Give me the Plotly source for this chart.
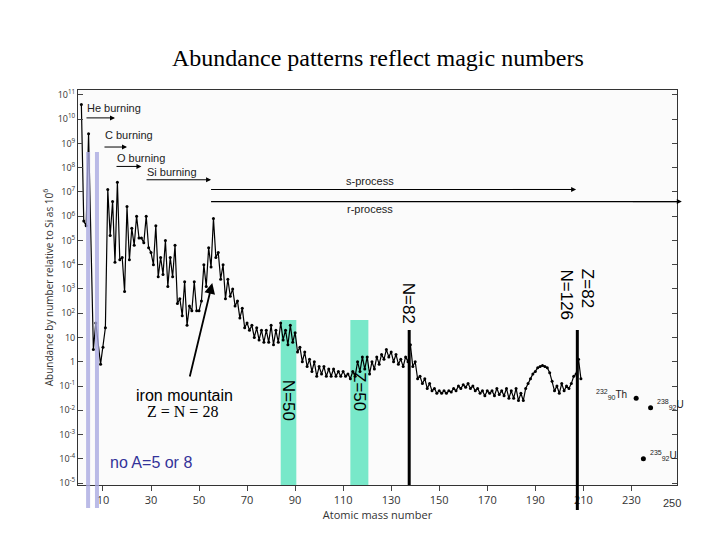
import plotly.graph_objects as go

A_light = [1, 2, 3, 4, 6, 7, 9, 10, 11, 12, 13, 14, 15, 16, 17, 18, 19, 20, 21, 22, 23, 24, 25, 26, 27, 28, 29, 30,
           31, 32, 33, 34, 35, 36, 37, 38, 39, 40, 41, 42, 43, 44, 45, 46, 47, 48, 49, 50, 51, 52, 53, 54, 55, 56,
           57, 58, 59]
log_light = [10.6, 5.8, 5.6, 9.4, 0.5, 1.6, -0.1, 0.6, 1.4, 7.1, 5.2, 6.6, 4.1, 7.4, 4.2, 4.3, 2.9, 6.4, 4.2, 5.5,
             4.8, 6.0, 5.1, 5.1, 4.9, 6.0, 4.7, 4.5, 4.0, 5.6, 3.5, 4.3, 3.6, 5.0, 3.1, 4.3, 3.5, 4.8, 2.4, 2.6,
             1.9, 3.3, 1.5, 2.3, 2.1, 3.3, 2.1, 2.1, 2.5, 4.0, 3.1, 4.7, 3.9, 5.9, 4.3, 4.5, 3.4]
A_heavy = list(range(60, 210))
log_heavy = [4.0, 2.6, 3.4, 2.7, 3.0, 2.3, 2.5, 1.8, 2.2, 1.4, 1.6, 1.3, 1.5, 1.0, 1.4, 0.9, 1.3, 0.8, 1.3, 0.8,
             1.5, 0.7, 1.3, 0.8, 1.6, 0.9, 1.3, 0.7, 1.5, 0.8, 1.2, 0.4, 0.6, 0.0, 0.4, -0.2, 0.1, -0.4, 0.0, -0.6,
             -0.2, -0.5, -0.2, -0.6, -0.3, -0.6, -0.3, -0.6, -0.4, -0.6, -0.4, -0.6, -0.5, -0.7, -0.4, -0.6, 0.0, -0.4, 0.2, -0.3,
             0.2, -0.5, 0.0, -0.3, 0.2, -0.1, 0.3, 0.1, 0.5, 0.2, 0.4, 0.0, 0.3, -0.1, 0.1, -0.2, 0.2, 0.0, 0.7, -0.2,
             0.0, -0.7, -0.6, -0.9, -0.7, -1.1, -0.9, -1.2, -1.1, -1.3, -1.2, -1.3, -1.2, -1.3, -1.2, -1.25, -1.1, -1.2, -1.0, -1.1,
             -0.95, -1.05, -0.9, -1.1, -1.0, -1.2, -1.1, -1.3, -1.2, -1.4, -1.2, -1.3, -1.2, -1.4, -1.1, -1.35, -1.2, -1.4, -1.1, -1.5,
             -1.2, -1.5, -1.1, -1.6, -1.3, -1.6, -1.1, -0.9, -0.7, -0.5, -0.4, -0.25, -0.2, -0.15, -0.2, -0.25, -0.45, -0.8, -1.2, -1.0,
             -1.3, -0.9, -1.2, -1.0, -1.1, -0.9, -0.6, -0.5, 0.1, -0.7]
A_act = [232, 238, 235]
log_act = [-1.5, -1.9, -4.0]
act_labels = ["<sup>232</sup><sub>90</sub>Th", "<sup>238</sup><sub>92</sub>U", "<sup>235</sup><sub>92</sub>U"]

y_ticks = list(range(-5, 12))
y_text = ["10<sup>%d</sup>" % k if k not in (0, 1) else ("1" if k == 0 else "10") for k in y_ticks]
x_ticks = list(range(10, 251, 20))

A_all = A_light + A_heavy
y_all = [10 ** v for v in log_light + log_heavy]

fig = go.Figure()
fig.add_trace(go.Scatter(x=A_all, y=y_all, mode="lines+markers",
                         line=dict(color="black", width=1.2), marker=dict(size=3, color="black"),
                         showlegend=False))
fig.add_trace(go.Scatter(x=A_act, y=[10 ** v for v in log_act], mode="markers",
                         marker=dict(size=5, color="black"), showlegend=False))

def py(p):  # pixel y -> paper
    return (485 - p) / 395

shapes = []
shapes.append(dict(type="rect", xref="x", yref="paper", x0=84, x1=90.5, y0=0, y1=py(320),
                   fillcolor="rgba(64,224,180,0.7)", line_width=0, layer="below"))
shapes.append(dict(type="rect", xref="x", yref="paper", x0=113, x1=120.5, y0=0, y1=py(320),
                   fillcolor="rgba(64,224,180,0.7)", line_width=0, layer="below"))
shapes.append(dict(type="line", xref="x", yref="paper", x0=137.5, x1=137.5, y0=0, y1=py(330),
                   line=dict(color="black", width=3)))
shapes.append(dict(type="line", xref="x", yref="paper", x0=207.5, x1=207.5, y0=py(510), y1=py(330),
                   line=dict(color="black", width=3)))
for xa in (3.8, 7.5):
    shapes.append(dict(type="line", xref="x", yref="paper", x0=xa, x1=xa, y0=py(508), y1=py(152),
                       line=dict(color="rgba(170,170,225,0.8)", width=4)))
shapes.append(dict(type="line", xref="x", yref="y", x0=55, x1=205, y0=10 ** 7.1, y1=10 ** 7.1,
                   line=dict(color="black", width=1.2)))
shapes.append(dict(type="line", xref="x", yref="y", x0=55, x1=249, y0=10 ** 6.6, y1=10 ** 6.6,
                   line=dict(color="black", width=1.2)))
fig.update_layout(shapes=shapes)

ann = []
def txt(x, y, t, size=11, xref="x", yref="y", **kw):
    ann.append(dict(x=x, y=y, text=t, xref=xref, yref=yref, showarrow=False,
                    font=dict(size=size, color=kw.pop("color", "#222"), family=kw.pop("family", "Arial")), **kw))

txt(2.5, 10.45, "He burning", xanchor="left")
txt(10, 9.35, "C burning", xanchor="left")
txt(15, 8.4, "O burning", xanchor="left")
txt(27.5, 7.8, "Si burning", xanchor="left")
txt(121, 7.45, "s-process")
txt(121, 6.3, "r-process")
for (x0, x1, ly) in [(2.5, 15, 10.05), (10, 20, 8.85), (15, 26, 8.05), (27.5, 55, 7.5), (180, 207, 7.1), (230, 251, 6.6)]:
    ann.append(dict(x=x1, y=ly, ax=x0, ay=ly, xref="x", yref="y", axref="x", ayref="y", text="",
                    showarrow=True, arrowhead=2, arrowsize=1, arrowwidth=1, arrowcolor="black"))
txt(229, -1.35, act_labels[0], size=10, xanchor="right")
txt(240, -1.75, act_labels[1], size=10, xanchor="left")
txt(237, -3.85, act_labels[2], size=10, xanchor="left")
txt(87.3, py(423), "N=50", size=17, yref="paper", textangle=90, color="black")
txt(116.8, py(413), "Z=50", size=17, yref="paper", textangle=90, color="black")
txt(137.5, py(303), "N=82", size=17, yref="paper", textangle=90, color="black")
txt(203, py(295), "N=126", size=17, yref="paper", textangle=90, color="black")
txt(212, py(288), "Z=82", size=17, yref="paper", textangle=90, color="black")
txt(44, py(406), "iron mountain", size=16, yref="paper", color="black")
txt(43, py(422), "Z = N = 28", size=16, yref="paper", color="black", family="Liberation Serif")
txt(30, py(473), "no A=5 or 8", size=16, yref="paper", color="#333399")
txt(1.01, -0.025, "250", size=11, xref="paper", yref="paper", color="#333", yanchor="top")
ann.append(dict(x=55.5, y=py(283), ax=46, ay=py(378), xref="x", yref="y domain", axref="x", ayref="y domain",
                text="", showarrow=True, arrowhead=2, arrowsize=1.2, arrowwidth=1.8, arrowcolor="black"))
ann.append(dict(x=0.5, y=1.12, xref="paper", yref="paper", text="Abundance patterns reflect magic numbers",
                showarrow=False, font=dict(size=24, family="Liberation Serif", color="black")))
fig.update_layout(annotations=ann)

fig.update_layout(
    width=720, height=540, margin=dict(l=70, r=51, t=82, b=63),
    paper_bgcolor="white", plot_bgcolor="#fbfbfb",
    xaxis=dict(range=[-0.4, 249], tickvals=x_ticks, showgrid=False, ticks="outside", ticklen=5,
               showline=True, linecolor="#333", mirror=True, zeroline=False,
               tickfont=dict(size=11, color="#333"),
               title=dict(text="Atomic mass number", font=dict(size=11, color="#333"), standoff=2)),
    yaxis=dict(type="log", range=[-5.08, 11.2], tickvals=[10 ** k for k in y_ticks], ticktext=y_text,
               showgrid=False, ticks="inside", ticklen=5, showline=True, linecolor="#333", mirror="ticks",
               tickfont=dict(size=9, color="#333"),
               title=dict(text="Abundance by number relative to Si as 10<sup>6</sup>", font=dict(size=10, color="#333"),
                          standoff=2)),
)
fig.write_html("out.html")
